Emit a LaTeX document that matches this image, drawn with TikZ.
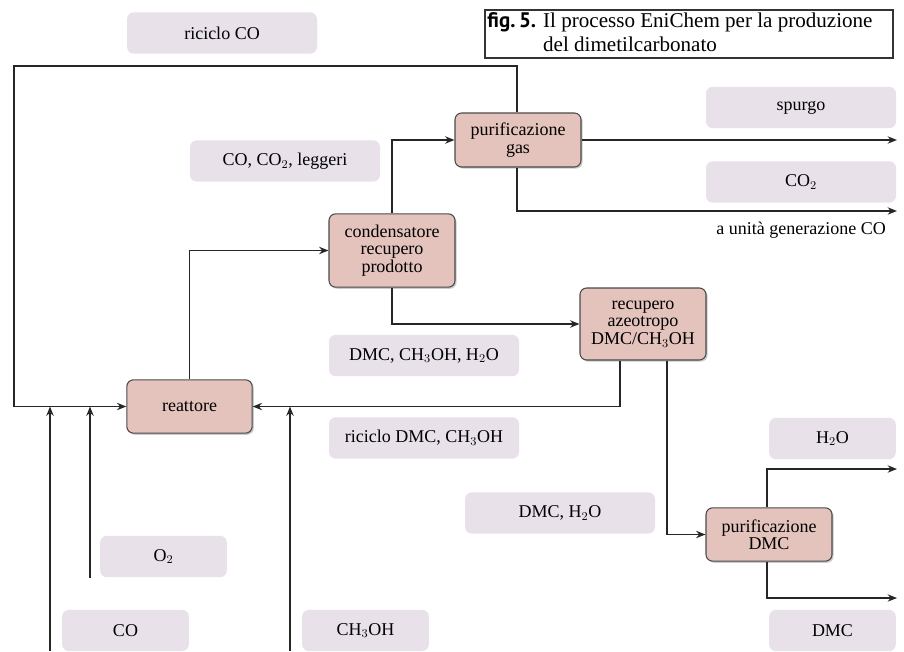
\documentclass[tikz,border=0pt]{standalone}
\usepackage{fontspec}
\setmainfont{Liberation Serif}
\newfontfamily\figsans{PT Sans}
\usetikzlibrary{arrows.meta,shadows}
\definecolor{procfill}{HTML}{E3C3BB}
\definecolor{procedge}{HTML}{4A4A4A}
\definecolor{tagfill}{HTML}{E8E1EA}
\begin{document}
\begin{tikzpicture}[x=0.75pt,y=-0.75pt,
  font=\fontsize{13.5pt}{13pt}\selectfont,
  proc/.style={draw=procedge,line width=0.8pt,fill=procfill,rounded corners=5pt,
    align=center,inner sep=1pt,
    drop shadow={shadow xshift=1.2pt,shadow yshift=-1.2pt,fill=black!35,opacity=0.6}},
  tag/.style={fill=tagfill,rounded corners=5pt,align=center,inner sep=0pt},
  wide/.style={minimum width=142.5pt,minimum height=31pt},
  narrow/.style={minimum width=95pt,minimum height=31pt},
  flow/.style={line width=1.1pt,draw=black!85,-{Stealth[length=7pt,width=5.5pt]}}]
\useasboundingbox (0,0) rectangle (904,651);

% title frame and caption
\node[draw=black!80,line width=0.8pt,minimum width=306pt,minimum height=36pt,inner sep=0pt]
  (titlebox) at (689,34) {};
\node[anchor=west,align=left,inner xsep=2pt,inner ysep=0pt,
  font=\fontsize{15.8pt}{18pt}\selectfont] (title) at (titlebox.west)
  {{\figsans\bfseries fig.\,5.} Il processo EniChem per la produzione\\
   \phantom{{\figsans\bfseries fig.\,5.} }del dimetilcarbonato};

% process units
\node[proc,minimum width=94pt,minimum height=40pt] (reatt) at (189.5,406.5) {reattore};
\node[proc,minimum width=94.5pt,minimum height=40.5pt] (pgas) at (518,140) {purificazione\\gas};
\node[proc,minimum width=94.5pt,minimum height=55pt] (cond) at (392,250.5) {condensatore\\recupero\\prodotto};
\node[proc,minimum width=94.5pt,minimum height=54pt] (azeo) at (643,324) {recupero\\azeotropo\\DMC/CH$_3$OH};
\node[proc,minimum width=94.5pt,minimum height=40pt] (pdmc) at (769,534.5) {purificazione\\DMC};

% stream tags
\node[tag,wide] (tCOr) at (222,33) {riciclo CO};
\node[tag,wide] (tlegg) at (285,161) {CO, CO$_2$, leggeri};
\node[tag,wide] (tspur) at (801,107.5) {spurgo};
\node[tag,wide] (tCO2) at (801,182) {CO$_2$};
\node[tag,wide] (tmix) at (424,355.5) {DMC, CH$_3$OH, H$_2$O};
\node[tag,wide] (tric) at (424,438) {riciclo DMC, CH$_3$OH};
\node[tag,wide] (tdw) at (560,513) {DMC, H$_2$O};
\node[tag,narrow] (tH2O) at (832.5,438.5) {H$_2$O};
\node[tag,narrow] (tO2) at (163.5,556.5) {O$_2$};
\node[tag,narrow] (tCO) at (125.5,630.5) {CO};
\node[tag,narrow] (tMeOH) at (365.5,630.5) {CH$_3$OH};
\node[tag,narrow] (tDMC) at (832.5,630.5) {DMC};

% free ends of the streams
\coordinate (inCO) at (50,651);
\coordinate (inO2) at (90,578);
\coordinate (inMeOH) at (290,651);
\coordinate (outSpurgo) at (897,140);
\coordinate (outCO2) at (897,211);
\coordinate (outH2O) at (897,469);
\coordinate (outDMC) at (897,598);

% recycle of CO around the plant
\draw[flow] (pgas.north -| 517,0) |- (14,66) |- (reatt.west);
% feeds
\draw[flow] (inCO) -- (inCO |- reatt.west);
\draw[flow] (inO2) -- (inO2 |- reatt.west);
\draw[flow] (inMeOH) -- (inMeOH |- reatt.east);
% main line
\draw[flow] (reatt.north) |- (cond.west);
\draw[flow] (cond.north) |- (pgas.west);
\draw[flow] (pgas.east) -- (outSpurgo);
\draw[flow] (pgas.south -| 517,0) |- (outCO2);
\node[anchor=north east,inner sep=0pt] (lblCO) at (886,222) {a unità generazione CO};
\draw[flow] (cond.south) |- (azeo.west);
\draw[flow] (azeo.south -| 620,0) |- (reatt.east);
\draw[flow] (azeo.south -| 667,0) |- (pdmc.west);
\draw[flow] (pdmc.north -| 767,0) |- (outH2O);
\draw[flow] (pdmc.south -| 767,0) |- (outDMC);
\end{tikzpicture}
\end{document}
